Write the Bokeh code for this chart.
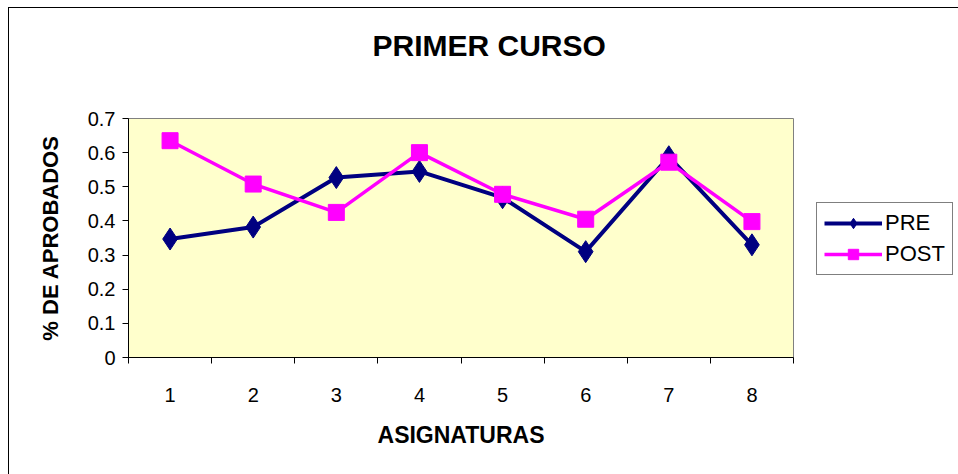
from bokeh.plotting import figure
from bokeh.models import (Range1d, FixedTicker, NumeralTickFormatter, Legend, LegendItem,
                          Title, ColumnDataSource)
from bokeh.embed import file_html
from bokeh.resources import INLINE

categories = [1, 2, 3, 4, 5, 6, 7, 8]
pre = [0.347, 0.382, 0.527, 0.545, 0.468, 0.310, 0.588, 0.330]
post = [0.635, 0.508, 0.425, 0.600, 0.478, 0.405, 0.572, 0.398]
y_ticks = [0, 0.1, 0.2, 0.3, 0.4, 0.5, 0.6, 0.7]
title_text = "PRIMER CURSO"
x_title = "ASIGNATURAS"
y_title = "% DE APROBADOS"

FONT = "Liberation Sans"

p = figure(width=949, height=466, output_backend="svg", toolbar_location=None,
           x_range=Range1d(0.5, 8.5), y_range=Range1d(0, 0.7),
           frame_width=665, frame_height=239,
           min_border_left=119, min_border_top=110, min_border_bottom=117, min_border_right=165)
p.styles = {"margin-left": "8px", "margin-top": "7px",
            "border-left": "1px solid black", "border-top": "1px solid black"}

p.background_fill_color = "#FFFFCC"
p.border_fill_color = "white"
p.outline_line_color = "#808080"
p.outline_line_width = 1
p.grid.visible = False

# spacer between frame and title (nearest to frame), then the title itself
spacer = Title(text=" ", text_font_size="10px", standoff=44, text_color="white")
p.add_layout(spacer, "above")
t = Title(text=title_text, align="left", offset=244, standoff=0,
          text_font=FONT, text_font_style="bold", text_font_size="30px", text_color="black")
p.add_layout(t, "above")

# x axis
xa = p.xaxis[0]
xa.ticker = FixedTicker(ticks=categories, minor_ticks=[c - 0.5 for c in categories] + [8.5])
xa.major_tick_out = 0
xa.major_tick_in = 0
xa.minor_tick_out = 6
xa.minor_tick_in = 0
xa.minor_tick_line_color = "black"
xa.axis_line_color = "black"
xa.major_label_standoff = 24
xa.major_label_text_font = FONT
xa.major_label_text_font_size = "20px"
xa.major_label_text_color = "black"
xa.axis_label = x_title
xa.axis_label_text_font = FONT
xa.axis_label_text_font_style = "bold"
xa.axis_label_text_font_size = "23px"
xa.axis_label_text_color = "black"
xa.axis_label_standoff = 17

# y axis
ya = p.yaxis[0]
ya.ticker = FixedTicker(ticks=y_ticks)
ya.formatter = NumeralTickFormatter(format="0.[0]")
ya.major_tick_out = 6
ya.major_tick_in = 0
ya.minor_tick_out = 0
ya.minor_tick_in = 0
ya.major_tick_line_color = "black"
ya.axis_line_color = "black"
ya.major_label_standoff = 7
ya.major_label_text_font = FONT
ya.major_label_text_font_size = "20px"
ya.major_label_text_color = "black"
ya.axis_label = y_title
ya.axis_label_text_font = FONT
ya.axis_label_text_font_style = "bold"
ya.axis_label_text_font_size = "22px"
ya.axis_label_text_color = "black"
ya.axis_label_standoff = 22

src = ColumnDataSource(dict(x=categories, pre=pre, post=post))
l1 = p.line("x", "pre", source=src, line_color="#000080", line_width=4)
m1 = p.scatter("x", "pre", source=src, marker="diamond", size=22, fill_color="#000080",
               line_color="#000080")
l2 = p.line("x", "post", source=src, line_color="#FF00FF", line_width=3.5)
m2 = p.scatter("x", "post", source=src, marker="square", size=16, fill_color="#FF00FF",
               line_color="#FF00FF")

legend = Legend(items=[LegendItem(label="PRE", renderers=[l1, m1]),
                       LegendItem(label="POST", renderers=[l2, m2])],
                location=(23, 82), orientation="vertical")
legend.label_text_font = FONT
legend.label_text_font_size = "22px"
legend.label_text_color = "black"
legend.border_line_color = "black"
legend.border_line_width = 1
legend.background_fill_color = "white"
legend.background_fill_alpha = 1
legend.glyph_width = 58
legend.glyph_height = 26
legend.label_standoff = 3
legend.padding = 7
legend.spacing = 5
legend.margin = 0
p.add_layout(legend, "right")

open("out.html", "w").write(file_html(p, INLINE))
